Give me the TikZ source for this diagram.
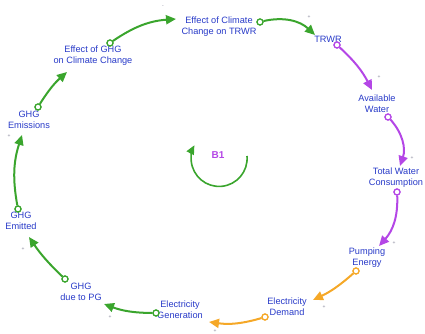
\documentclass[tikz,border=0pt]{standalone}
\usepackage{fontspec}
\setmainfont{Liberation Sans}
\usetikzlibrary{arrows.meta}
\definecolor{txtblue}{RGB}{40,58,200}
\definecolor{lgreen}{RGB}{58,165,45}
\definecolor{lviolet}{RGB}{180,70,230}
\definecolor{lorange}{RGB}{245,168,40}
\definecolor{signgray}{RGB}{130,130,150}
\tikzset{
  var/.style={text=txtblue, align=center, inner sep=0pt, font=\fontsize{9.2}{11}\selectfont},
  tail/.style={circle, draw=#1, fill=white, line width=1.2pt, minimum size=6pt, inner sep=0pt},
  link/.style={draw=#1, line width=2pt, -{Triangle[length=10pt,width=9pt]}},
  sgn/.style={text=signgray, inner sep=0pt, font=\fontsize{5}{5}\selectfont},
}
\begin{document}
\begin{tikzpicture}[x=1pt,y=1pt]
\useasboundingbox (0,0) rectangle (425,334);

% variables
\node[var] (eghg)  at (93,278)  {Effect of GHG\\on Climate Change};
\node[var] (ecc)   at (219,307) {Effect of Climate\\Change on TRWR};
\node[var] (trwr)  at (328,295) {TRWR};
\node[var] (aw)    at (377,230) {Available\\Water};
\node[var] (twc)   at (396,156) {Total Water\\Consumption};
\node[var] (pe)    at (367,76)  {Pumping\\Energy};
\node[var] (ed)    at (287,27)  {Electricity\\Demand};
\node[var] (eg)    at (180,24)  {Electricity\\Generation};
\node[var] (ghgpg) at (81,42)   {GHG\\due to PG};
\node[var] (ghge)  at (21,113)  {GHG\\Emitted};
\node[var] (ghgem) at (29,214)  {GHG\\Emissions};

% arrow tips
\coordinate (t1)  at (176,315);
\coordinate (t2)  at (315,299);
\coordinate (t3)  at (372,244);
\coordinate (t4)  at (400,168);
\coordinate (t5)  at (379,88);
\coordinate (t6)  at (313,34);
\coordinate (t7)  at (209,12);
\coordinate (t8)  at (104,30);
\coordinate (t9)  at (29,97);
\coordinate (t10) at (22,199);
\coordinate (t11) at (67,262);

% tails
\node[tail=lgreen]  (c1)  at (110,291) {};
\node[tail=lgreen]  (c2)  at (260,312) {};
\node[tail=lviolet] (c3)  at (337,289) {};
\node[tail=lviolet] (c4)  at (388,217) {};
\node[tail=lviolet] (c5)  at (397,142) {};
\node[tail=lorange] (c6)  at (356,63)  {};
\node[tail=lorange] (c7)  at (265,17)  {};
\node[tail=lgreen]  (c8)  at (156,21)  {};
\node[tail=lgreen]  (c9)  at (65,55)   {};
\node[tail=lgreen]  (c10) at (18,125)  {};
\node[tail=lgreen]  (c11) at (38,227)  {};

% causal links
\draw[link=lgreen]  (c1)  to[bend left=15] (t1);
\draw[link=lgreen]  (c2)  to[bend left=28] (t2);
\draw[link=lviolet] (c3)  to[bend left=10] (t3);
\draw[link=lviolet] (c4)  to[bend left=30] (t4);
\draw[link=lviolet] (c5)  to[bend left=22] (t5);
\draw[link=lorange] (c6)  to[bend left=8]  (t6);
\draw[link=lorange] (c7)  to[bend left=12] (t7);
\draw[link=lgreen]  (c8)  to[bend left=10] (t8);
\draw[link=lgreen]  (c9)  to[bend left=6]  (t9);
\draw[link=lgreen]  (c10) to[bend left=14] (t10);
\draw[link=lgreen]  (c11) to[bend left=8]  (t11);

% redraw tails on top of the link ends
\foreach \c/\col in {c1/lgreen,c2/lgreen,c3/lviolet,c4/lviolet,c5/lviolet,c6/lorange,c7/lorange,c8/lgreen,c9/lgreen,c10/lgreen,c11/lgreen}
  \draw[\col, fill=white, line width=1.2pt] (\c) circle[radius=3pt];

% polarities
\node[sgn] (s1)  at (163,327) {-};
\node[sgn] (s2)  at (309,317) {+};
\node[sgn] (s3)  at (379,257) {+};
\node[sgn] (s4)  at (412,176) {+};
\node[sgn] (s5)  at (394,91)  {+};
\node[sgn] (s6)  at (324,27)  {+};
\node[sgn] (s7)  at (215,3)   {+};
\node[sgn] (s8)  at (110,17)  {+};
\node[sgn] (s9)  at (23,85)   {+};
\node[sgn] (s10) at (9,198)   {+};

% loop marker
\node[text=lviolet, font=\bfseries\fontsize{10}{12}\selectfont, inner sep=0pt] (b1) at (218,179) {B1};
\draw[lgreen, line width=1.6pt, -{Triangle[length=9pt,width=8pt]}]
  (247,178) arc[start angle=5, end angle=-208, radius=28];
\end{tikzpicture}
\end{document}
